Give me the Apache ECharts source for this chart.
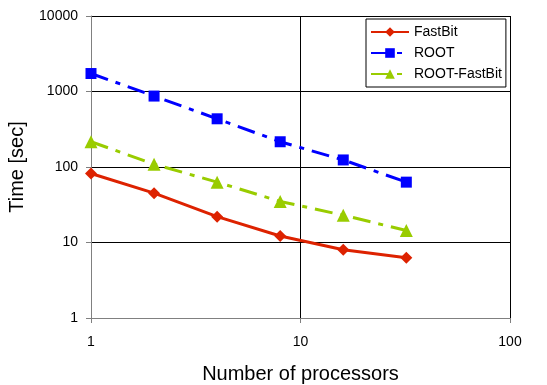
<!DOCTYPE html>
<html>
<head>
<meta charset="utf-8">
<script src="https://cdn.jsdelivr.net/npm/echarts@6/dist/echarts.min.js"></script>
<style>
html, body { margin: 0; padding: 0; background: #fff; }
#chart { width: 547px; height: 385px; }
</style>
</head>
<body>
<div id="chart"></div>
<script>
// processors (x) and times in seconds (y)
var procs = [1, 2, 4, 8, 16, 32];
var fastbit = [82, 45, 22, 12.2, 8.0, 6.3];
var root = [1730, 870, 435, 216, 124, 63];
var rootFastbit = [216, 109, 63, 35, 23, 14.4];

function pairs(ys) {
	return procs.map(function (p, i) { return [p, ys[i]]; });
}

var chart = echarts.init(document.getElementById('chart'));
var dashDot = [18, 8, 5, 8];

var option = {
	animation: false,
	textStyle: { fontFamily: 'Liberation Sans, Arial, sans-serif', color: '#000' },
	grid: { left: 91, right: 37, top: 16, bottom: 67, outerBoundsMode: 'none' },
	legend: {
		orient: 'vertical',
		left: 366, top: 19,
		padding: [6, 4, 6, 4],
		itemGap: 7,
		itemWidth: 38, itemHeight: 12,
		backgroundColor: '#fff',
		borderColor: '#000', borderWidth: 1,
		textStyle: { fontSize: 14, color: '#000', fontFamily: 'Liberation Sans, Arial, sans-serif' },
		data: ['FastBit', 'ROOT', 'ROOT-FastBit']
	},
	xAxis: {
		type: 'log', logBase: 10, min: 1, max: 100,
		name: 'Number of processors', nameLocation: 'middle', nameGap: 46,
		nameTextStyle: { fontSize: 20, color: '#000' },
		axisLine: { lineStyle: { color: '#808080', width: 1 } },
		axisTick: { show: true, length: 5, lineStyle: { color: '#808080' } },
		axisLabel: { fontSize: 14, color: '#000', margin: 17 },
		splitLine: { show: true, lineStyle: { color: '#000', width: 1 } }
	},
	yAxis: {
		type: 'log', logBase: 10, min: 1, max: 10000,
		name: 'Time [sec]', nameLocation: 'middle', nameGap: 64,
		nameTextStyle: { fontSize: 20, color: '#000' },
		axisLine: { show: true, lineStyle: { color: '#808080', width: 1 } },
		axisTick: { show: true, length: 5, lineStyle: { color: '#808080' } },
		axisLabel: { fontSize: 14, color: '#000', margin: 13, formatter: function (v) { return String(Math.round(v)); } },
		splitLine: { show: true, lineStyle: { color: '#000', width: 1 } }
	},
	series: [
		{
			name: 'FastBit', type: 'line', data: pairs(fastbit),
			symbol: 'diamond', symbolSize: 12,
			itemStyle: { color: '#dd2200' },
			lineStyle: { color: '#dd2200', width: 3, type: 'solid' }
		},
		{
			name: 'ROOT', type: 'line', data: pairs(root),
			symbol: 'rect', symbolSize: 11,
			itemStyle: { color: '#0000ff' },
			lineStyle: { color: '#0000ff', width: 3, type: dashDot }
		},
		{
			name: 'ROOT-FastBit', type: 'line', data: pairs(rootFastbit),
			symbol: 'triangle', symbolSize: 13,
			itemStyle: { color: '#99cc00' },
			lineStyle: { color: '#99cc00', width: 3, type: dashDot }
		}
	]
};
chart.setOption(option);
</script>
</body>
</html>
